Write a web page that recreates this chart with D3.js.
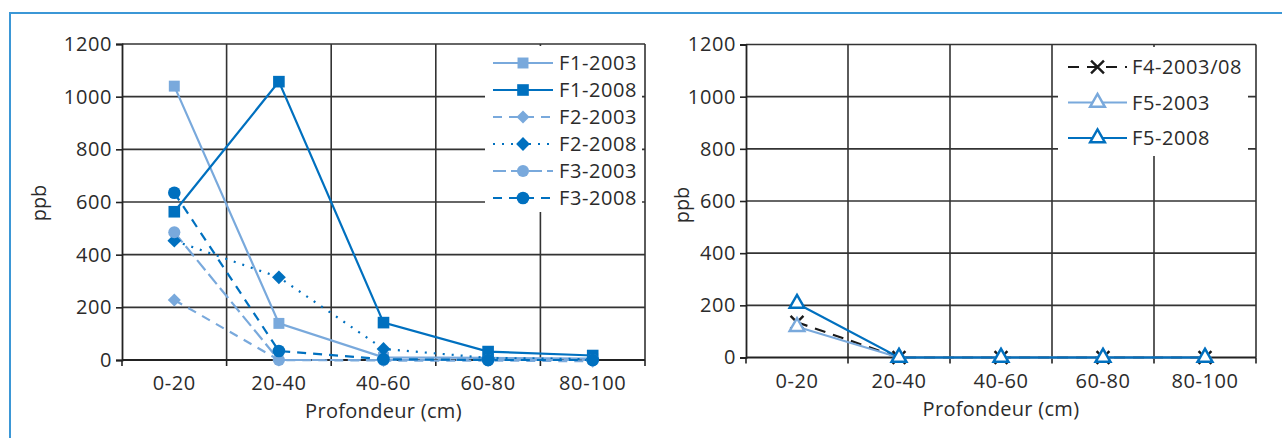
<!DOCTYPE html>
<html>
<head>
<meta charset="utf-8">
<script src="https://cdn.jsdelivr.net/npm/d3@7"></script>
<style>
  body { margin: 0; background: #fff; }
  svg { display: block; }
  text { font-family: "Open Sans", "Noto Sans", sans-serif; fill: #2b2b2b; }
</style>
</head>
<body>
<svg id="fig" width="1282" height="438"></svg>
<script>
// --- données ---
const categories = ["0-20", "20-40", "40-60", "60-80", "80-100"];
const yTicks = [0, 200, 400, 600, 800, 1000, 1200];

// graphique de gauche
const f1_2003 = [1040, 139, 10, 8, 5];
const f1_2008 = [563, 1057, 142, 32, 17];
const f2_2003 = [228, 0, -2, -2, -5];
const f2_2008 = [453, 314, 42, 8, 3];
const f3_2003 = [485, 0, 0, 0, 0];
const f3_2008 = [635, 34, 3, 0, 0];

// graphique de droite
const f4_2003_08 = [135, 0, 0, 0, 0];
const f5_2003 = [118, 0, 0, 0, 0];
const f5_2008 = [207, 0, 0, 0, 0];

const bleuClair = "#79a9dc";
const bleuFonce = "#0070bf";

// losange = carré tourné de 45°
const seriesGauche = [
  { nom: "F1-2003", valeurs: f1_2003, couleur: bleuClair, dash: null, symbole: d3.symbolSquare, taille: 120, rot: 0, plein: true },
  { nom: "F1-2008", valeurs: f1_2008, couleur: bleuFonce, dash: null, symbole: d3.symbolSquare, taille: 135, rot: 0, plein: true },
  { nom: "F2-2003", valeurs: f2_2003, couleur: bleuClair, dash: "9,7", symbole: d3.symbolSquare, taille: 85, rot: 45, plein: true },
  { nom: "F2-2008", valeurs: f2_2008, couleur: bleuFonce, dash: "2,7", symbole: d3.symbolSquare, taille: 95, rot: 45, plein: true },
  { nom: "F3-2003", valeurs: f3_2003, couleur: bleuClair, dash: "13,5", symbole: d3.symbolCircle, taille: 115, rot: 0, plein: true },
  { nom: "F3-2008", valeurs: f3_2008, couleur: bleuFonce, dash: "9,7", symbole: d3.symbolCircle, taille: 125, rot: 0, plein: true }
];

const seriesDroite = [
  { nom: "F4-2003/08", valeurs: f4_2003_08, couleur: "#1a1a1a", dash: "11,8", symbole: d3.symbolX, taille: 110, rot: 0, plein: false },
  { nom: "F5-2003", valeurs: f5_2003, couleur: bleuClair, dash: null, symbole: d3.symbolTriangle, taille: 95, rot: 0, plein: false },
  { nom: "F5-2008", valeurs: f5_2008, couleur: bleuFonce, dash: null, symbole: d3.symbolTriangle, taille: 95, rot: 0, plein: false }
];

const svg = d3.select("#fig");

// cadre bleu
svg.append("path")
  .attr("d", "M10,438 L10,13 L1282,13")
  .attr("fill", "none")
  .attr("stroke", "#3b97d6")
  .attr("stroke-width", 2);

function remplissage(s) {
  if (s.plein) return s.couleur;
  return s.symbole === d3.symbolX ? "none" : "#fff";
}

function dessinerGraphique(cfg) {
  const g = svg.append("g");

  const x = d3.scaleBand().domain(categories).range([cfg.x0, cfg.x1]).padding(0);
  const y = d3.scaleLinear().domain([0, 1200]).range([cfg.y0, cfg.yTop]);

  // quadrillage horizontal
  g.selectAll(".gridH")
    .data(yTicks.filter(d => d > 0))
    .enter().append("line")
    .attr("x1", cfg.x0).attr("x2", cfg.x1)
    .attr("y1", d => y(d)).attr("y2", d => y(d))
    .attr("stroke", "#333").attr("stroke-width", 1.6);

  // quadrillage vertical (limites des catégories)
  const limites = categories.map(c => x(c)).concat([cfg.x1]);
  g.selectAll(".gridV")
    .data(limites.slice(1))
    .enter().append("line")
    .attr("x1", d => d).attr("x2", d => d)
    .attr("y1", cfg.yTop).attr("y2", cfg.y0)
    .attr("stroke", "#333").attr("stroke-width", 1.6);

  // axe Y
  const axeY = d3.axisLeft(y).tickValues(yTicks).tickFormat(d3.format("d")).tickSize(6).tickPadding(4);
  const gy = g.append("g").attr("transform", `translate(${cfg.x0},0)`).call(axeY);
  gy.select(".domain").attr("stroke", "#222").attr("stroke-width", 1.8);
  gy.selectAll(".tick line").attr("stroke", "#222").attr("stroke-width", 1.6);
  gy.selectAll(".tick text")
    .style("font-size", cfg.fs + "px")
    .style("letter-spacing", "0.6px")
    .attr("fill", "#2b2b2b");

  // axe X : ligne du zéro et graduations aux limites
  g.append("line")
    .attr("x1", cfg.x0).attr("x2", cfg.x1)
    .attr("y1", y(0)).attr("y2", y(0))
    .attr("stroke", "#222").attr("stroke-width", 1.8);
  g.selectAll(".tickX")
    .data(limites)
    .enter().append("line")
    .attr("x1", d => d).attr("x2", d => d)
    .attr("y1", y(0)).attr("y2", y(0) + 6)
    .attr("stroke", "#222").attr("stroke-width", 1.6);
  g.selectAll(".labelX")
    .data(categories)
    .enter().append("text")
    .attr("x", d => x(d) + x.bandwidth() / 2)
    .attr("y", cfg.y0 + 30)
    .attr("text-anchor", "middle")
    .style("font-size", cfg.fs + "px")
    .style("letter-spacing", "0.6px")
    .text(d => d);

  // titres des axes
  g.append("text")
    .attr("x", (cfg.x0 + cfg.x1) / 2)
    .attr("y", cfg.y0 + 58)
    .attr("text-anchor", "middle")
    .style("font-size", cfg.fs + "px")
    .style("letter-spacing", "0.3px")
    .text("Profondeur (cm)");
  g.append("text")
    .attr("transform", `translate(${cfg.ppbX},${cfg.ppbY}) rotate(-90)`)
    .attr("text-anchor", "middle")
    .style("font-size", cfg.fs + "px")
    .text("ppb");

  // légende : fond blanc qui masque le quadrillage
  g.append("rect")
    .attr("x", cfg.leg.x).attr("y", cfg.leg.y)
    .attr("width", cfg.leg.w).attr("height", cfg.leg.h)
    .attr("fill", "#fff");

  // séries
  const ligne = d3.line()
    .x((d, i) => x(categories[i]) + x.bandwidth() / 2)
    .y(d => y(d));

  cfg.series.forEach(s => {
    g.append("path")
      .datum(s.valeurs)
      .attr("d", ligne)
      .attr("fill", "none")
      .attr("stroke", s.couleur)
      .attr("stroke-width", 2.2)
      .attr("stroke-dasharray", s.dash);
  });
  cfg.series.forEach(s => {
    g.selectAll(null)
      .data(s.valeurs)
      .enter().append("path")
      .attr("transform", (d, i) => `translate(${x(categories[i]) + x.bandwidth() / 2},${y(d)}) rotate(${s.rot})`)
      .attr("d", d3.symbol().type(s.symbole).size(s.taille))
      .attr("fill", remplissage(s))
      .attr("stroke", s.couleur)
      .attr("stroke-width", s.plein ? 0 : 2.4);
  });

  // entrées de légende
  cfg.series.forEach((s, i) => {
    const yy = cfg.leg.y0 + i * cfg.leg.pas;
    g.append("line")
      .attr("x1", cfg.leg.lx1).attr("x2", cfg.leg.lx2)
      .attr("y1", yy).attr("y2", yy)
      .attr("stroke", s.couleur)
      .attr("stroke-width", 2.2)
      .attr("stroke-dasharray", s.dash);
    g.append("path")
      .attr("transform", `translate(${(cfg.leg.lx1 + cfg.leg.lx2) / 2},${yy}) rotate(${s.rot})`)
      .attr("d", d3.symbol().type(s.symbole).size(s.taille))
      .attr("fill", remplissage(s))
      .attr("stroke", s.couleur)
      .attr("stroke-width", s.plein ? 0 : 2.4);
    g.append("text")
      .attr("x", cfg.leg.tx)
      .attr("y", yy)
      .attr("dy", "0.35em")
      .style("font-size", cfg.fs + "px")
      .style("letter-spacing", "0.6px")
      .text(s.nom);
  });
}

dessinerGraphique({
  x0: 122, x1: 645, yTop: 44, y0: 360, fs: 20,
  ppbX: 46, ppbY: 203,
  series: seriesGauche,
  leg: { x: 485, y: 46, w: 157, h: 166, y0: 63, pas: 27, lx1: 493, lx2: 553, tx: 559 }
});

dessinerGraphique({
  x0: 746, x1: 1256, yTop: 44.5, y0: 357.5, fs: 20,
  ppbX: 689, ppbY: 205,
  series: seriesDroite,
  leg: { x: 1058, y: 47, w: 190, h: 109, y0: 67, pas: 35.5, lx1: 1068, lx2: 1127, tx: 1132 }
});
</script>
</body>
</html>
